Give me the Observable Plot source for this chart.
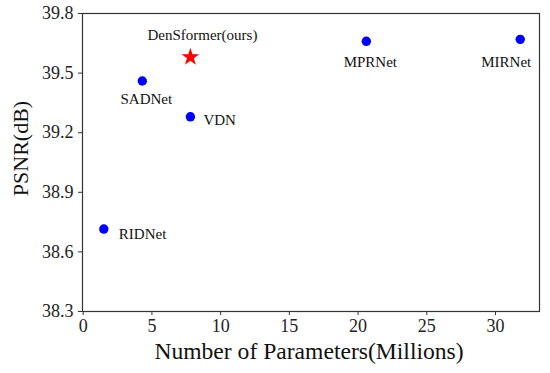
<!DOCTYPE html>
<html>
<head>
<meta charset="utf-8">
<script src="https://cdn.jsdelivr.net/npm/d3@7"></script>
<script src="https://cdn.jsdelivr.net/npm/@observablehq/plot@0.6"></script>
<style>
  html, body { margin: 0; padding: 0; background: #fff; }
  #chart svg { display: block; }
  #chart svg, #chart svg text { font-family: "Liberation Serif", "Times New Roman", serif !important; }
</style>
</head>
<body>
<div id="chart"></div>
<script>
// Data
const models = ["RIDNet", "SADNet", "VDN", "MPRNet", "MIRNet", "DenSformer(ours)"];
const params = [1.5, 4.3, 7.8, 20.6, 31.8, 7.8];       // Millions
const psnr   = [38.715, 39.46, 39.28, 39.66, 39.67, 39.58]; // dB
const xTicks = [0, 5, 10, 15, 20, 25, 30];
const yTicks = [38.3, 38.6, 38.9, 39.2, 39.5, 39.8];
const xLabel = "Number of Parameters(Millions)";
const yLabel = "PSNR(dB)";
const ours = "DenSformer(ours)";

const data = models.map((m, i) => ({ model: m, params: params[i], psnr: psnr[i] }));
const others = data.filter(d => d.model !== ours);
const mine = data.filter(d => d.model === ours);

const font = "Liberation Serif";

function label(name, dx, dy, anchor) {
  return Plot.text(data.filter(d => d.model === name), {
    x: "params", y: "psnr", text: "model",
    dx, dy, textAnchor: anchor, fontSize: 15, fill: "#111", fontFamily: font
  });
}

const chart = Plot.plot({
  width: 550,
  height: 373,
  marginLeft: 82,
  marginRight: 11,
  marginTop: 13,
  marginBottom: 62,
  style: { background: "#fff", overflow: "visible" },
  x: { domain: [-0.05, 33.2] },
  y: { domain: [38.3, 39.8] },
  marks: [
    Plot.frame({ stroke: "#333", strokeWidth: 1.2 }),
    Plot.axisX({ ticks: xTicks, tickSize: 4, tickPadding: 4, fontSize: 18, label: null, stroke: "#333", fill: "#222", fontFamily: font }),
    Plot.axisY({ ticks: yTicks, tickFormat: d3.format(".1f"), tickSize: 4, tickPadding: 5, fontSize: 18, label: null, stroke: "#333", fill: "#222", fontFamily: font }),
    Plot.dot(others, { x: "params", y: "psnr", r: 4.7, fill: "#0000ff", stroke: "none" }),
    Plot.dot(mine, { x: "params", y: "psnr", r: 5.6, symbol: "star", fill: "#ff0000", stroke: "none" }),
    label("RIDNet", 15, 5, "start"),
    label("SADNet", 4, 18, "middle"),
    label("VDN", 13, 3, "start"),
    label("MPRNet", 4, 21, "middle"),
    label("MIRNet", -14, 23, "middle"),
    label(ours, 12, -22, "middle"),
    Plot.text([yLabel], { text: d => d, frameAnchor: "left", dx: -62, dy: -14, rotate: -90, textAnchor: "middle", lineAnchor: "middle", fontSize: 22, fill: "#111", fontFamily: font }),
    Plot.text([xLabel], { text: d => d, frameAnchor: "bottom", dx: -2, dy: 40, textAnchor: "middle", lineAnchor: "middle", fontSize: 23.6, fill: "#111", fontFamily: font })
  ]
});
document.getElementById("chart").appendChild(chart);
</script>
</body>
</html>
